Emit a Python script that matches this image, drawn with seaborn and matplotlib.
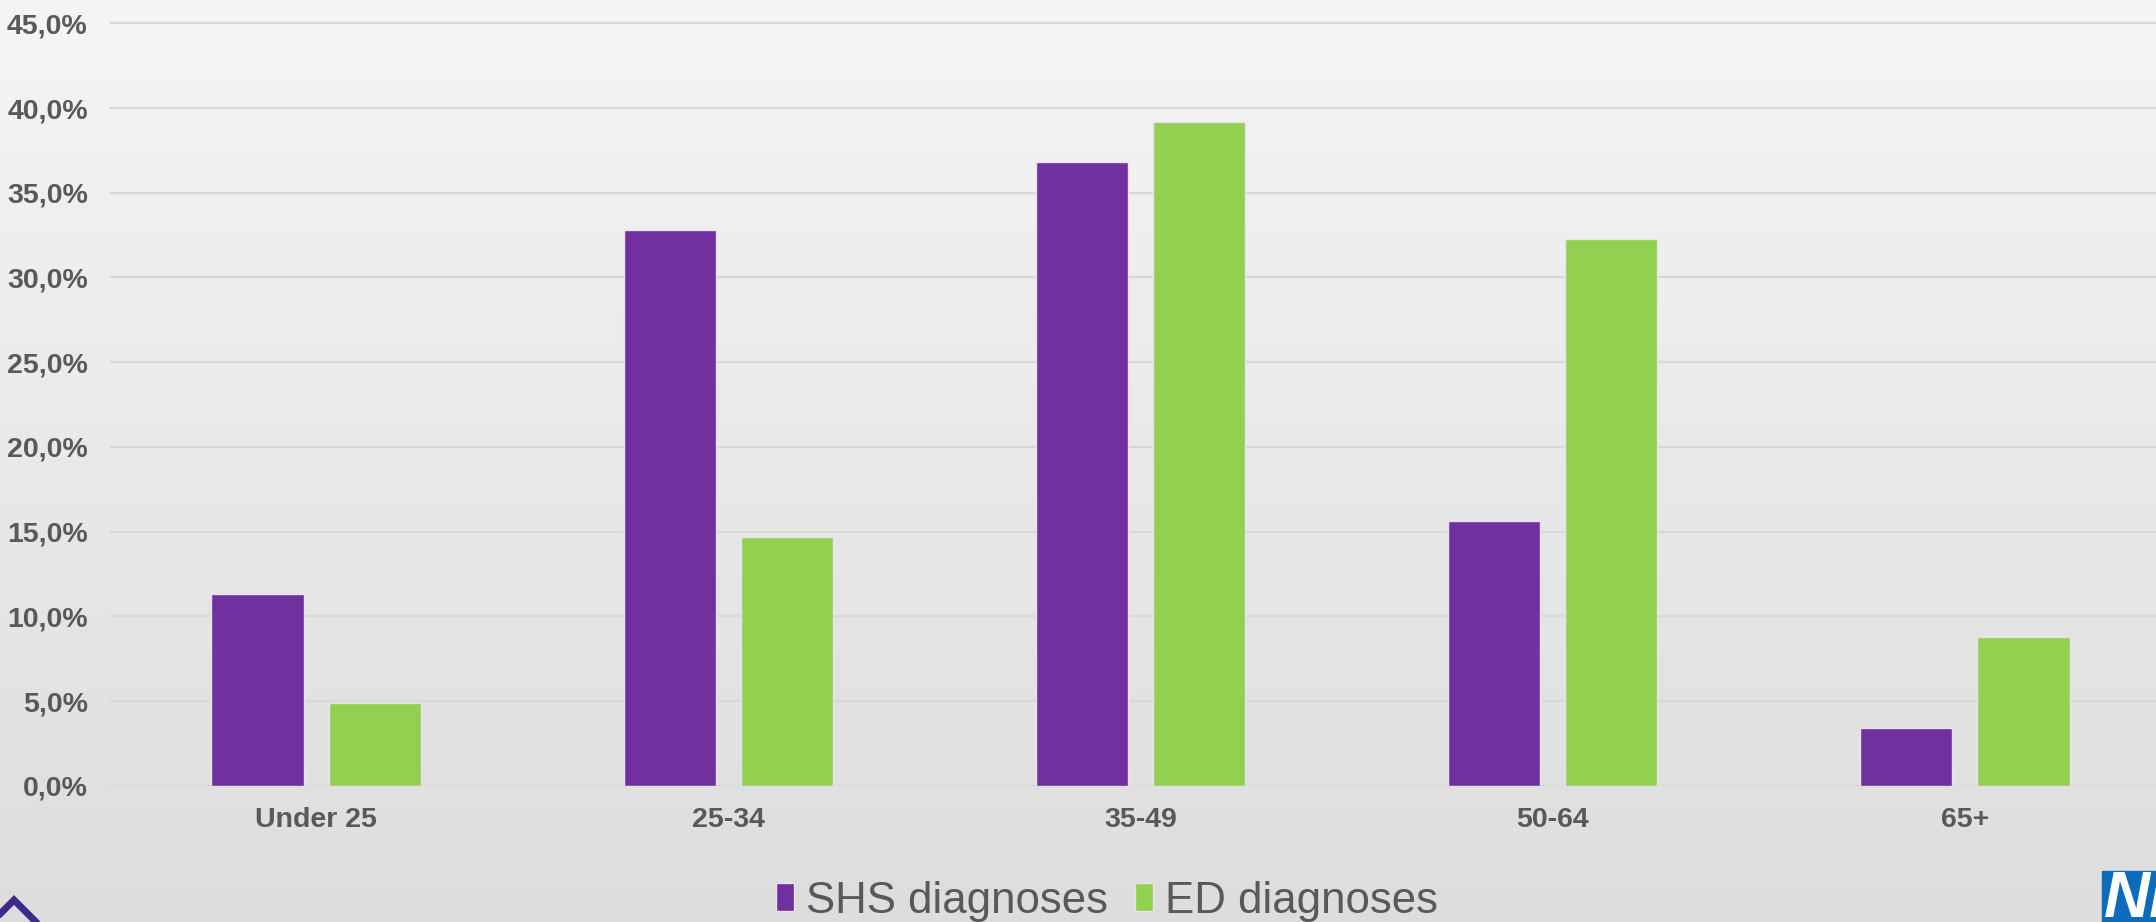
import numpy as np
import pandas as pd
import matplotlib
matplotlib.use("Agg")
import matplotlib.pyplot as plt
from matplotlib.lines import Line2D
from matplotlib.patches import Rectangle
from matplotlib.ticker import FuncFormatter
import seaborn as sns

# Share of diagnoses by age band (%)
age_bands = ["Under 25", "25-34", "35-49", "50-64", "65+"]
shs_diagnoses = [11.3, 32.8, 36.8, 15.6, 3.4]
ed_diagnoses = [4.9, 14.7, 39.2, 32.3, 8.8]
series_names = ["SHS diagnoses", "ED diagnoses"]
y_ticks = [0, 5, 10, 15, 20, 25, 30, 35, 40, 45]

PURPLE = "#7030a0"
GREEN = "#92d050"
TEXT = "#595959"
GRID = "#d7d7d7"

sns.set_theme(style="white")
fam = ["Liberation Sans", "DejaVu Sans"]
plt.rcParams["font.family"] = fam

df = pd.DataFrame({
    "age": age_bands * 2,
    "share": shs_diagnoses + ed_diagnoses,
    "series": [series_names[0]] * len(age_bands) + [series_names[1]] * len(age_bands),
})

W, H, DPI = 2156, 922, 100
fig = plt.figure(figsize=(W / DPI, H / DPI), dpi=DPI)

# soft vertical gradient behind everything
bg = fig.add_axes([0, 0, 1, 1], zorder=-10)
grad = np.linspace(0, 1, 256).reshape(-1, 1)
top_c = np.array([245, 245, 245]) / 255
bot_c = np.array([221, 221, 221]) / 255
img = top_c[None, None, :] * (1 - grad[..., None]) + bot_c[None, None, :] * grad[..., None]
bg.imshow(img, aspect="auto", extent=[0, 1, 0, 1])
bg.set_axis_off()

left = 110 / W
width = 2061 / W
bottom = (H - 785.7) / H
ymax = 45.3
height = (785.7 - 23.4) / H * ymax / 45
ax = fig.add_axes([left, bottom, width, height])
ax.patch.set_alpha(0)

sns.barplot(
    data=df, x="age", y="share", hue="series",
    palette=[PURPLE, GREEN], saturation=1, width=0.569, gap=0.213,
    edgecolor="#e6e2ee", linewidth=1.0, ax=ax, zorder=3,
)

ax.set_ylim(0, ymax)
ax.set_xlim(-0.5, len(age_bands) - 0.5)
ax.set_yticks(y_ticks)
ax.yaxis.set_major_formatter(FuncFormatter(lambda v, _: f"{v:.1f}%".replace(".", ",")))
ax.grid(axis="y", color=GRID, linewidth=1.6, zorder=0)
ax.set_axisbelow(True)
for s in ax.spines.values():
    s.set_visible(False)
ax.set_xlabel("")
ax.set_ylabel("")
ax.tick_params(axis="both", length=0, colors=TEXT)
ax.tick_params(axis="y", pad=16)
ax.tick_params(axis="x", pad=15)
for lab in ax.get_yticklabels() + ax.get_xticklabels():
    lab.set_fontsize(20.5)
    lab.set_fontweight("bold")
    lab.set_color(TEXT)

handles, labels = ax.get_legend_handles_labels()
ax.get_legend().remove()
fig.legend(
    handles, labels, loc="center", ncol=2, frameon=False,
    bbox_to_anchor=(1107 / W, 1 - 901 / H),
    fontsize=31.5, labelcolor=TEXT,
    handlelength=0.42, handleheight=0.6, handletextpad=0.28,
    columnspacing=0.6, borderaxespad=0,
)

# corner marks
fig.add_artist(Line2D([-12 / W, 14 / W, 42 / W],
                      [1 - 926 / H, 1 - 900 / H, 1 - 928 / H],
                      transform=fig.transFigure, color="#3f2a8c",
                      linewidth=5, solid_joinstyle="miter"))
fig.add_artist(Rectangle((2102 / W, 0), 160 / W, (H - 871) / H,
                         transform=fig.transFigure, color="#0b6cbc", zorder=5))
fig.text(2104 / W, -8 / H, "NHS", color="white", fontsize=46,
         fontweight="bold", fontstyle="italic",
         ha="left", va="bottom", zorder=6)

fig.savefig("out.png", dpi=DPI)
